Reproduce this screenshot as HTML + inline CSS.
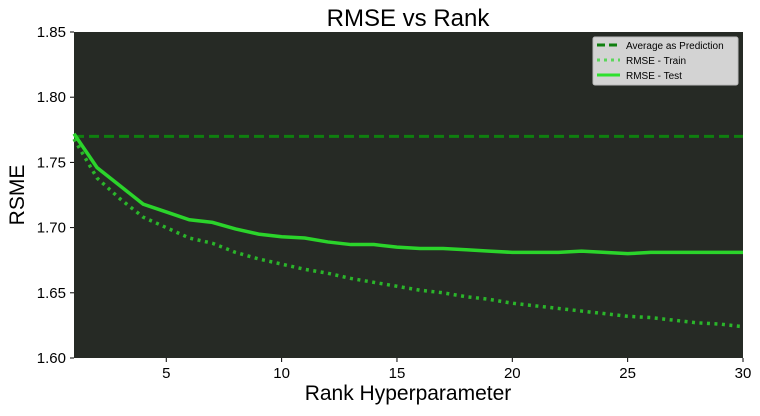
<!DOCTYPE html>
<html><head><meta charset="utf-8"><style>
body{margin:0;background:#fff;font-family:"Liberation Sans",sans-serif}
svg text{font-family:"Liberation Sans",sans-serif}
</style></head><body>
<svg id="chart" width="760" height="411" xmlns="http://www.w3.org/2000/svg">
<rect x="0" y="0" width="760" height="411" fill="#fff"/>
<rect x="74" y="32" width="669" height="326" fill="#262a25"/>
<text x="408" y="26" font-size="24" text-anchor="middle" fill="#000">RMSE vs Rank</text>
<text x="408" y="400" font-size="21" text-anchor="middle" fill="#000">Rank Hyperparameter</text>
<text x="24" y="195" font-size="21" text-anchor="middle" fill="#000" transform="rotate(-90 24 195)">RSME</text>
<g id="axes"></g>
<g id="series"></g>
<g>
<rect x="593" y="37" width="145" height="48" rx="2" fill="#d3d3d3" stroke="#bbb"/>
<line x1="597" y1="45" x2="620" y2="45" stroke="#0f7f0f" stroke-width="3" stroke-dasharray="8,4"/>
<text x="626" y="49" font-size="10" fill="#000">Average as Prediction</text>
<line x1="597" y1="60" x2="620" y2="60" stroke="#5bd65b" stroke-width="3" stroke-dasharray="3,4"/>
<text x="626" y="64" font-size="10" fill="#000">RMSE - Train</text>
<line x1="597" y1="75" x2="620" y2="75" stroke="#2ee02e" stroke-width="3"/>
<text x="626" y="79" font-size="10" fill="#000">RMSE - Test</text>
</g>
</svg>
<script>
const ranks=[1,2,3,4,5,6,7,8,9,10,11,12,13,14,15,16,17,18,19,20,21,22,23,24,25,26,27,28,29,30];
const testRmse=[1.772,1.746,1.732,1.718,1.712,1.706,1.704,1.699,1.695,1.693,1.692,1.689,1.687,1.687,1.685,1.684,1.684,1.683,1.682,1.681,1.681,1.681,1.682,1.681,1.680,1.681,1.681,1.681,1.681,1.681];
const trainRmse=[1.768,1.738,1.722,1.708,1.700,1.692,1.688,1.681,1.676,1.672,1.668,1.665,1.661,1.658,1.655,1.652,1.650,1.647,1.645,1.642,1.640,1.638,1.636,1.634,1.632,1.631,1.629,1.627,1.626,1.624];
const avgPrediction=1.770;
const xTicks=[5,10,15,20,25,30];
const yTicks=[1.60,1.65,1.70,1.75,1.80,1.85];
const NS="http://www.w3.org/2000/svg";
const X0=74,X1=743,Y0=358,Y1=32;
const xs=v=>X0+(v-1)/(30-1)*(X1-X0);
const ys=v=>Y0-(v-1.60)/(1.85-1.60)*(Y0-Y1);
const axes=document.getElementById('axes'),series=document.getElementById('series');
function mk(t,a,p){const e=document.createElementNS(NS,t);for(const k in a)e.setAttribute(k,a[k]);p.appendChild(e);return e;}
xTicks.forEach(v=>{
 const l=mk('line',{x1:xs(v),x2:xs(v),y1:Y0,y2:Y0+4,stroke:'#000'},axes);
 
 
 const t=mk('text',{x:xs(v),y:Y0+20,'font-size':15,'text-anchor':'middle',fill:'#000'},axes);t.textContent=v;
 
 
});
yTicks.forEach(v=>{
 const l=mk('line',{x1:X0-4,x2:X0,y1:ys(v),y2:ys(v),stroke:'#000'},axes);
 
 
 const t=mk('text',{x:X0-8,y:ys(v)+5,'font-size':15,'text-anchor':'end',fill:'#000'},axes);t.textContent=v.toFixed(2);
 
 
});
const avg=mk('line',{x1:X0,x2:X1,y1:ys(avgPrediction),y2:ys(avgPrediction),stroke:'#0f7f0f','stroke-width':3,'stroke-dasharray':'10,5'},series);


const pts=a=>a.map((v,i)=>xs(ranks[i])+','+ys(v)).join(' ');
const tr=mk('polyline',{points:pts(trainRmse),fill:'none',stroke:'#2ab52a','stroke-width':3.5,'stroke-dasharray':'3,4.5'},series);


const te=mk('polyline',{points:pts(testRmse),fill:'none',stroke:'#2bd42b','stroke-width':3.5},series);


</script>
</body></html>
